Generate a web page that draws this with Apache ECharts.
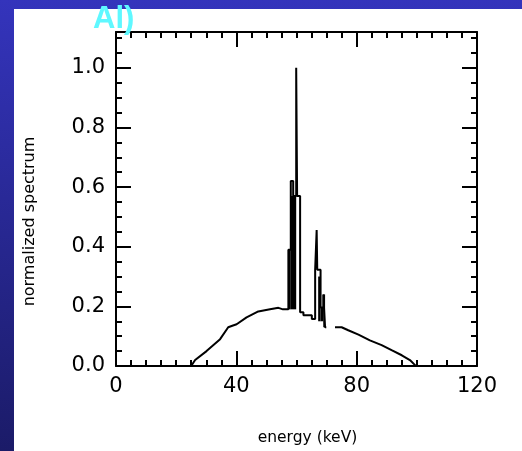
<!DOCTYPE html>
<html>
<head>
<meta charset="utf-8">
<script src="https://cdn.jsdelivr.net/npm/echarts@6/dist/echarts.min.js"></script>
<style>
html,body{margin:0;padding:0;}
body{background:linear-gradient(to bottom,#3434bc 0%,#1b1b68 100%);width:522px;height:451px;position:relative;overflow:hidden;}
#panel{position:absolute;left:14px;top:9px;width:508px;height:442px;background:#ffffff;}
#chart{position:absolute;left:0;top:0;width:522px;height:451px;}
</style>
</head>
<body>
<div id="panel"></div>
<div id="chart"></div>
<script>
// ---- data ----
const energy = [0, 25, 26.3, 30.1, 34.6, 37.3, 38.9, 40.1, 43.4, 47.3, 51.2, 54.0, 55.5, 57.3,
  57.3, 58.1, 58.1, 58.9, 58.9, 59.9, 59.9, 60.2, 60.2, 61.2, 61.2, 62.3, 62.3, 65.1, 65.1, 66.2,
  66.2, 66.7, 66.7, 66.9, 66.9, 68.0, 68.0, 68.9, 68.9, 69.5, 69.5, 69.9, 71.0,
  72.8, 75.0, 77.2, 80.6, 84.4, 88.3, 91.6, 95.0, 97.7, 99.4, 100];
const spectrum = [0, 0, 0.02, 0.05, 0.09, 0.13, 0.136, 0.14, 0.163, 0.183, 0.19, 0.195, 0.19, 0.19,
  0.39, 0.39, 0.62, 0.62, 0.57, 0.57, 1.0, 1.0, 0.57, 0.57, 0.18, 0.18, 0.17, 0.17, 0.158, 0.158,
  0.323, 0.323, 0.456, 0.456, 0.323, 0.323, 0.196, 0.196, 0.24, 0.24, 0.13, 0.13, null,
  0.13, 0.13, 0.12, 0.105, 0.086, 0.07, 0.053, 0.036, 0.02, 0.003, 0];
// dark filled regions under the emission lines: [start keV, end keV, low, high]
const blockStart = [57.3, 58.1, 67.2, 68.0, 68.9];
const blockEnd   = [58.1, 59.9, 68.0, 68.9, 69.5];
const blockLow   = [0.19, 0.19, 0.15, 0.15, 0.13];
const blockHigh  = [0.39, 0.57, 0.30, 0.196, 0.24];
const xTicks = [0, 40, 80, 120];
const yTicks = [0.0, 0.2, 0.4, 0.6, 0.8, 1.0];
const panelLabel = 'Al)';
const xTitle = 'energy (keV)';
const yTitle = 'normalized spectrum';

const lineData = energy.map((e, i) => [e, spectrum[i]]);
const blockData = blockStart.map((s, i) => [s, blockEnd[i], blockLow[i], blockHigh[i]]);

const chart = echarts.init(document.getElementById('chart'), null, {renderer: 'canvas'});
const black = '#000';
const labelFont = {color: black, fontSize: 21, fontFamily: 'DejaVu Sans'};

function xAx(pos, labels) {
  return {
    type: 'value', position: pos, min: 0, max: 120, interval: 40,
    axisLine: {show: true, onZero: false, lineStyle: {color: black, width: 2}},
    axisTick: {show: true, inside: true, length: 15, lineStyle: {color: black, width: 2}},
    minorTick: {show: true, splitNumber: 8, length: 6, lineStyle: {color: black, width: 2}},
    splitLine: {show: false}, minorSplitLine: {show: false},
    axisLabel: labels ? Object.assign({show: true, margin: 10,
      formatter: v => xTicks.indexOf(v) >= 0 ? String(v) : ''}, labelFont) : {show: false},
    name: labels ? xTitle : '',
    nameLocation: 'middle', nameGap: 64,
    nameTextStyle: {color: black, fontSize: 15.5, fontFamily: 'DejaVu Sans', padding: [0, 0, 0, 22]}
  };
}
function yAx(pos, major, labels) {
  return {
    type: 'value', position: pos, min: 0, max: 1.12, interval: major ? 0.2 : 0.05,
    axisLine: {show: major, onZero: false, lineStyle: {color: black, width: 2}},
    axisTick: {show: true, inside: true, length: major ? 15 : 6, lineStyle: {color: black, width: 2}},
    splitLine: {show: false},
    axisLabel: labels ? Object.assign({show: true, margin: 11, showMaxLabel: false,
      formatter: v => {
        const hit = yTicks.find(t => Math.abs(t - v) < 1e-6);
        return hit === undefined ? '' : hit.toFixed(1);
      }}, labelFont) : {show: false},
    name: labels ? yTitle : '',
    nameLocation: 'middle', nameGap: 78, nameRotate: 90,
    nameTextStyle: {color: black, fontSize: 16, fontFamily: 'DejaVu Sans', padding: [0, 45, 0, 0]}
  };
}

chart.setOption({
  animation: false,
  title: {text: panelLabel, left: 93, top: 4, padding: 0,
    textStyle: {color: '#5ff8ff', fontSize: 31, fontWeight: 'bold', fontFamily: 'Liberation Sans'}},
  grid: {left: 116, right: 45, top: 32, bottom: 80},
  xAxis: [xAx('bottom', true), xAx('top', false)],
  yAxis: [yAx('left', true, true), yAx('right', true, false), yAx('left', false, false), yAx('right', false, false)],
  series: [
    {
      type: 'custom', xAxisIndex: 0, yAxisIndex: 0,
      encode: {x: [0, 1], y: [2, 3]},
      data: blockData,
      renderItem: function (params, api) {
        const p0 = api.coord([api.value(0), api.value(3)]);
        const p1 = api.coord([api.value(1), api.value(2)]);
        return {type: 'rect', shape: {x: p0[0], y: p0[1], width: p1[0] - p0[0], height: p1[1] - p0[1]},
                style: {fill: '#000000'}};
      }
    },
    {
      type: 'line', xAxisIndex: 0, yAxisIndex: 0,
      data: lineData, showSymbol: false, connectNulls: false,
      lineStyle: {color: '#000000', width: 2}
    }
  ]
});
</script>
</body>
</html>
